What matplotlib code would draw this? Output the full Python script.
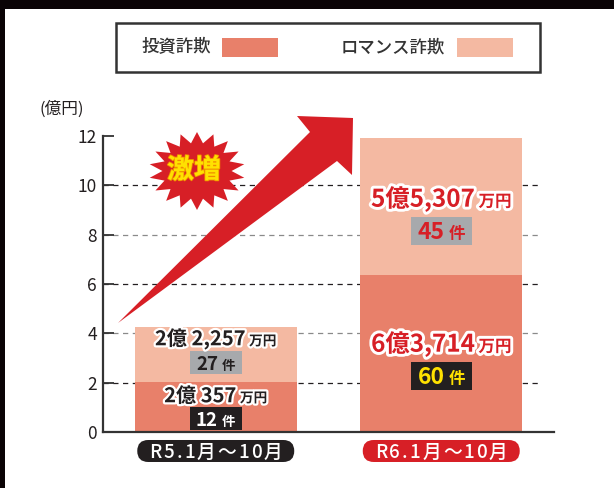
import matplotlib
matplotlib.use("Agg")
import matplotlib.pyplot as plt
import matplotlib.patches as mpatches
import matplotlib.patheffects as pe
import matplotlib.transforms as mtransforms
import numpy as np

plt.rcParams['font.family'] = ['Noto Sans CJK JP', 'DejaVu Sans']

###############################################################################
# Data (億円)
categories = ['R5.1月〜10月', 'R6.1月〜10月']
invest = [2.0357, 6.3714]        # 投資詐欺
romance = [2.2257, 5.5307]       # ロマンス詐欺
invest_amount = ['2億 357', '6億3,714']
romance_amount = ['2億 2,257', '5億5,307']
invest_count = ['12', '60']
romance_count = ['27', '45']
yticks = [0, 2, 4, 6, 8, 10, 12]
legend_labels = ['投資詐欺', 'ロマンス詐欺']

###############################################################################
# Style
C_INV = '#E8806A'
C_ROM = '#F4B9A2'
RED = '#D71F26'
DARK = '#231F20'
YELLOW = '#FFE100'
GRAY_BOX = '#A7A9AC'

W, H, DPI = 614, 488, 100
fig = plt.figure(figsize=(W / DPI, H / DPI), dpi=DPI)
renderer = fig.canvas.get_renderer()


def fx(px):
    return px / W


def fy(py):
    return 1 - py / H


def pt(px):
    return px * 72 / DPI


ax = fig.add_axes([fx(103), fy(432), (554 - 103) / W, (432 - 136) / H])
ax.set_xlim(-0.5, 1.5)
ax.set_ylim(0, 12)

x = np.arange(len(categories))
ax.bar(x, invest, width=0.72, color=C_INV, zorder=2)
ax.bar(x, romance, bottom=invest, width=0.72, color=C_ROM, zorder=2)

# dashed grid lines, alternating dark / gray
for i, yv in enumerate(yticks[1:-1]):
    ax.hlines(yv, -0.5, (540 - 103) / 225.5 - 0.5, colors=DARK if i % 2 == 0 else '#8A8A8A',
              linestyles=(0, (4.2, 3.6)), linewidth=0.9, zorder=1)

for s in ['top', 'right']:
    ax.spines[s].set_visible(False)
for s in ['left', 'bottom']:
    ax.spines[s].set_color('#333333')
    ax.spines[s].set_linewidth(1.6)
ax.set_yticks(yticks)
ax.tick_params(axis='y', direction='in', length=8, width=1.3, color='#333333',
               labelsize=12.5, labelcolor=DARK, pad=4.5)
ax.set_xticks([])
fig.text(fx(62), fy(109), '(億円)', ha='center', va='center', size=12, color=DARK)


def segments(xc, yc, parts, gap, base_size, effects=None, zorder=6, weight='bold'):
    texts, widths = [], []
    for s, size, color in parts:
        t = ax.annotate(s, (xc, yc), xytext=(0, 0), textcoords='offset points',
                        ha='left', va='baseline', size=size, color=color, weight=weight,
                        path_effects=effects, zorder=zorder, annotation_clip=False)
        widths.append(pt(t.get_window_extent(renderer).width))
        texts.append(t)
    total = sum(widths) + gap * (len(parts) - 1)
    cur = -total / 2
    for t, w in zip(texts, widths):
        t.xyann = (cur, -0.36 * base_size)
        cur += w + gap


def box(xc, yc, w_px, h_px, color, round_px=0, zorder=5):
    trans = fig.dpi_scale_trans + mtransforms.ScaledTranslation(xc, yc, ax.transData)
    style = 'round,pad=0,rounding_size=%f' % (round_px / DPI) if round_px else 'square,pad=0'
    ax.add_patch(mpatches.FancyBboxPatch((-w_px / 2 / DPI, -h_px / 2 / DPI), w_px / DPI, h_px / DPI,
                                         boxstyle=style, transform=trans, fc=color, ec='none',
                                         zorder=zorder, clip_on=False))


# label layout (data y positions) and styling per bar
rom_amount_y = [3.81, 9.49]
rom_count_y = [2.80, 8.15]
inv_amount_y = [1.50, 3.61]
inv_count_y = [0.53, 2.27]
amount_size = [14.5, 17.5]
count_size = [13.5, 16.5]
amount_color = [DARK, RED]
rom_count_color = [DARK, RED]
inv_count_color = ['white', YELLOW]
count_box = [(52, 23), (61, 28)]
stroke = [3.2, 4.2]

for i in range(len(categories)):
    eff = [pe.withStroke(linewidth=stroke[i], foreground='white')]
    s = amount_size[i]
    segments(x[i], rom_amount_y[i], [(romance_amount[i], s, amount_color[i]),
                                     ('万円', s * 0.68, amount_color[i])], 2.5, s, eff)
    segments(x[i], inv_amount_y[i], [(invest_amount[i], s, amount_color[i]),
                                     ('万円', s * 0.68, amount_color[i])], 2.5, s, eff)
    c = count_size[i]
    bw, bh = count_box[i]
    box(x[i], rom_count_y[i], bw, bh, GRAY_BOX)
    segments(x[i], rom_count_y[i], [(romance_count[i], c, rom_count_color[i]),
                                    ('件', c * 0.72, rom_count_color[i])], 3, c)
    box(x[i], inv_count_y[i], bw, bh, DARK)
    segments(x[i], inv_count_y[i], [(invest_count[i], c, inv_count_color[i]),
                                    ('件', c * 0.72, inv_count_color[i])], 3, c)

# category pills under the axis
pill_color = [DARK, RED]
for i, cat in enumerate(categories):
    box(x[i], -0.77, 157, 22, pill_color[i], round_px=11)
    segments(x[i], -0.77, [(ch, 13.5, 'white') for ch in cat], 1.4, 13.5, weight='medium')

###############################################################################
# Legend box
fig.add_artist(mpatches.Rectangle((fx(116), fy(72)), (540 - 116) / W, (72 - 23) / H,
                                  transform=fig.transFigure, fill=False, ec='#333333', lw=1.8))
for label, tx, px0, col in zip(legend_labels, [176, 393], [222, 457], [C_INV, C_ROM]):
    fig.text(fx(tx), fy(47), label, ha='center', va='center', size=12.5, color='#333333',
             weight='medium')
    fig.add_artist(mpatches.Rectangle((fx(px0), fy(57)), 56 / W, 19 / H,
                                      transform=fig.transFigure, fc=col, ec='none'))

###############################################################################
# Big red arrow and "激増" burst
arrow_px = [(118, 323), (310, 132), (297, 116), (353, 118), (352, 175), (337, 161)]
fig.add_artist(mpatches.Polygon([(fx(a), fy(b)) for a, b in arrow_px], closed=True,
                                 transform=fig.transFigure, fc=RED, ec='none', zorder=5))

n_spikes = 18
ang = np.pi / 2 + np.arange(2 * n_spikes) * np.pi / n_spikes
rad = np.where(np.arange(2 * n_spikes) % 2 == 0, 1.0, 0.72)
star = [(fx(197 + 48 * r * np.cos(a)), fy(171 - 39 * r * np.sin(a))) for a, r in zip(ang, rad)]
fig.add_artist(mpatches.Polygon(star, closed=True, transform=fig.transFigure,
                                fc=RED, ec='none', zorder=5))
fig.text(fx(194), fy(170), '激増', ha='center', va='center', size=19.5, weight='bold',
         color=YELLOW, zorder=6,
         path_effects=[pe.withStroke(linewidth=1.2, foreground='#F08C00')])

# dark frame on top and left edge
fig.add_artist(mpatches.Rectangle((0, fy(9)), 1, 9 / H, transform=fig.transFigure,
                                  fc='#0A0305', ec='none', zorder=10))
fig.add_artist(mpatches.Rectangle((0, 0), 5 / W, 1, transform=fig.transFigure,
                                  fc='#0A0305', ec='none', zorder=10))

fig.savefig('out.png', dpi=DPI)
